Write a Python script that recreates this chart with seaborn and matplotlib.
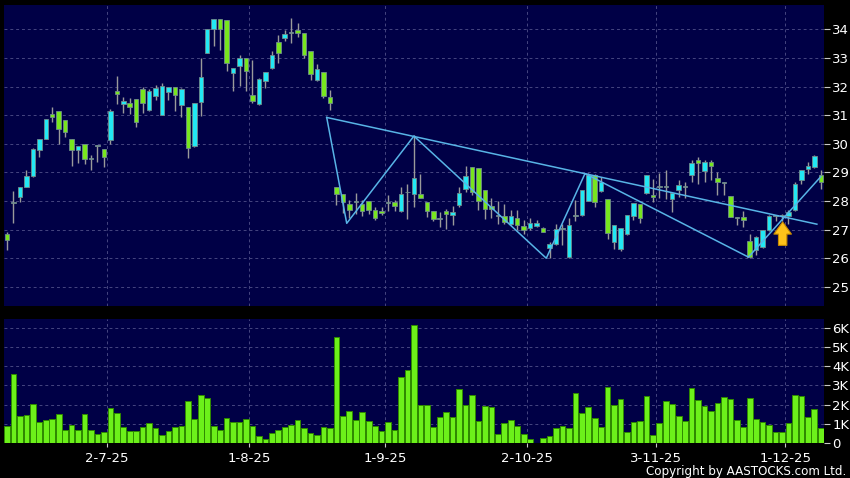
import numpy as np
import pandas as pd
import seaborn as sns
import matplotlib.pyplot as plt

# daily candles, oldest first
opens = [26.84, 27.93, 28.14, 28.49, 28.88, 29.79, 30.17, 31.05, 31.14, 30.84,
         30.17, 29.79, 30.00, 29.48, 29.92, 29.83, 30.14, 31.84, 31.40, 31.43,
         31.56, 31.91, 31.19, 31.67, 31.01, 31.80, 32.00, 31.34, 31.30, 29.91,
         31.45, 33.19, 34.00, 34.35, 34.33, 32.49, 32.73, 32.99, 31.70, 31.40,
         32.21, 32.64, 33.57, 33.69, 33.86, 33.98, 33.88, 33.26, 32.23, 32.50,
         31.62, 28.49, 28.24, 27.90, 27.97, 27.91, 27.99, 27.67, 27.65, 27.93,
         27.97, 27.66, 28.30, 28.26, 28.23, 27.97, 27.65, 27.37, 27.65, 27.52,
         27.85, 28.43, 29.19, 29.16, 28.37, 27.82, 27.48, 27.48, 27.21, 27.42,
         27.13, 27.07, 27.14, 27.07, 26.35, 26.50, 27.02, 26.04, 27.49, 27.51,
         28.01, 28.91, 28.36, 28.06, 26.58, 26.31, 26.84, 27.49, 27.88, 28.29,
         28.20, 28.49, 28.49, 28.06, 28.38, 28.49, 28.90, 29.42, 29.05, 29.36,
         28.81, 28.63, 28.17, 27.42, 27.44, 26.60, 26.30, 26.40, 26.98, 27.48,
         27.48, 27.48, 27.67, 28.74, 29.13, 29.19, 28.90]
highs = [26.92, 28.34, 28.50, 29.10, 29.85, 30.17, 30.87, 31.30, 31.14, 30.84,
         30.17, 29.93, 30.00, 29.60, 29.95, 29.83, 31.20, 32.38, 31.65, 31.60,
         31.56, 32.00, 31.90, 32.06, 32.14, 32.00, 32.00, 31.95, 31.30, 31.44,
         32.99, 34.00, 34.35, 34.35, 34.33, 32.64, 33.10, 32.99, 32.93, 32.30,
         32.52, 33.26, 33.80, 33.98, 34.38, 34.23, 33.88, 33.26, 32.79, 32.50,
         31.88, 28.50, 28.24, 28.02, 28.28, 28.05, 27.99, 27.80, 27.80, 28.20,
         28.05, 28.50, 28.60, 30.29, 28.95, 27.97, 27.65, 27.60, 27.73, 27.81,
         28.49, 29.21, 29.19, 29.16, 28.37, 28.10, 28.00, 27.90, 27.70, 27.67,
         27.33, 27.42, 27.32, 27.10, 26.55, 27.20, 27.20, 27.40, 28.05, 28.40,
         28.97, 28.95, 28.85, 28.06, 27.15, 27.05, 27.50, 27.92, 27.88, 28.90,
         28.76, 28.97, 29.08, 28.27, 28.73, 28.65, 29.44, 29.53, 29.44, 29.44,
         29.01, 28.65, 28.17, 27.45, 27.65, 26.86, 26.76, 27.00, 27.50, 27.50,
         27.55, 27.70, 28.65, 29.07, 29.36, 29.60, 29.07]
lows = [26.28, 27.24, 27.97, 28.49, 28.85, 29.53, 30.17, 30.76, 30.00, 30.23,
        29.21, 29.33, 29.30, 29.09, 29.36, 29.19, 30.00, 31.40, 31.07, 31.05,
        30.60, 31.07, 31.15, 31.53, 31.00, 31.53, 31.16, 30.95, 29.50, 29.90,
        30.98, 33.19, 33.42, 33.28, 32.56, 31.86, 32.02, 31.86, 31.42, 31.35,
        31.94, 32.60, 32.81, 33.60, 33.51, 33.72, 32.99, 32.23, 32.20, 31.60,
        31.19, 27.87, 27.58, 27.41, 27.56, 27.47, 27.55, 27.35, 27.50, 27.64,
        27.64, 27.60, 27.38, 27.79, 28.10, 27.44, 27.30, 27.09, 27.03, 27.17,
        27.80, 28.31, 28.20, 27.67, 27.38, 27.41, 27.20, 27.20, 27.15, 26.98,
        26.83, 27.00, 27.10, 26.90, 26.02, 26.45, 26.45, 26.00, 27.30, 27.48,
        28.00, 27.80, 28.30, 26.66, 26.31, 26.27, 26.80, 27.34, 27.22, 28.25,
        27.98, 28.09, 28.06, 27.63, 28.15, 28.09, 28.66, 28.60, 28.66, 28.74,
        28.20, 28.20, 27.44, 27.15, 27.10, 26.02, 26.10, 26.35, 26.95, 27.30,
        27.30, 27.20, 27.65, 28.60, 28.95, 29.15, 28.43]
closes = [26.63, 27.93, 28.49, 28.88, 29.83, 30.17, 30.87, 30.95, 30.52, 30.41,
          29.79, 29.93, 29.48, 29.48, 29.92, 29.53, 31.14, 31.74, 31.51, 31.30,
          30.76, 31.42, 31.86, 31.94, 32.03, 32.00, 31.69, 31.93, 29.85, 31.44,
          32.35, 34.00, 34.35, 34.00, 32.84, 32.64, 32.99, 32.56, 31.51, 32.26,
          32.52, 33.10, 33.19, 33.84, 33.86, 33.88, 33.10, 32.44, 32.62, 31.67,
          31.42, 28.24, 27.95, 27.70, 27.97, 27.64, 27.67, 27.40, 27.57, 27.93,
          27.81, 28.24, 28.30, 28.81, 28.12, 27.64, 27.36, 27.37, 27.53, 27.63,
          28.28, 28.86, 28.31, 27.99, 27.73, 27.72, 27.48, 27.27, 27.48, 27.15,
          27.00, 27.23, 27.23, 26.92, 26.50, 27.02, 27.02, 27.17, 27.49, 28.38,
          28.91, 27.98, 28.67, 26.87, 27.15, 27.05, 27.50, 27.92, 27.40, 28.90,
          28.13, 28.49, 28.49, 28.27, 28.55, 28.49, 29.33, 29.33, 29.36, 29.21,
          28.65, 28.63, 27.44, 27.42, 27.35, 26.05, 26.74, 27.00, 27.48, 27.48,
          27.48, 27.60, 28.60, 29.07, 29.24, 29.59, 28.66]
# volume in thousands
volume = [0.90, 3.62, 1.43, 1.48, 2.05, 1.13, 1.20, 1.27, 1.51, 0.70,
          0.96, 0.70, 1.50, 0.68, 0.50, 0.61, 1.83, 1.55, 0.85, 0.66,
          0.64, 0.87, 1.04, 0.80, 0.45, 0.63, 0.85, 0.89, 2.17, 1.27,
          2.52, 2.37, 0.89, 0.68, 1.30, 1.11, 1.13, 1.25, 0.92, 0.38,
          0.23, 0.52, 0.70, 0.82, 0.97, 1.23, 0.80, 0.56, 0.42, 0.83,
          0.78, 5.50, 1.43, 1.70, 1.22, 1.60, 1.18, 0.92, 0.64, 1.10,
          0.71, 3.46, 3.81, 6.16, 1.97, 1.98, 0.83, 1.39, 1.65, 1.34,
          2.82, 2.00, 2.50, 1.18, 1.95, 1.86, 0.47, 1.06, 1.23, 0.90,
          0.49, 0.24, 0.04, 0.26, 0.38, 0.78, 0.89, 0.78, 2.63, 1.57,
          1.86, 1.29, 0.87, 2.94, 1.97, 2.31, 0.57, 1.10, 1.15, 2.45,
          0.43, 1.04, 2.17, 2.03, 1.43, 1.17, 2.85, 2.24, 1.93, 1.70,
          2.07, 2.42, 2.30, 1.22, 0.82, 2.37, 1.27, 1.11, 0.97, 0.59,
          0.61, 1.03, 2.52, 2.45, 1.36, 1.76, 0.80]

date_labels = ['2-7-25', '1-8-25', '1-9-25', '2-10-25', '3-11-25', '1-12-25']
date_bars = [15, 37, 58, 80, 100, 120]

# drawn trend lines: (bar index, price)
trend_x = [49.5, 125.4]
trend_y = [30.92, 27.19]
zigzag_x = [49.5, 52.6, 63.0, 83.5, 89.5, 114.8, 126.0]
zigzag_y = [30.92, 27.22, 30.27, 26.00, 28.96, 26.04, 28.85]
arrow_bar, arrow_lo, arrow_hi = 120.1, 26.45, 27.27

df = pd.DataFrame({'open': opens, 'high': highs, 'low': lows,
                   'close': closes, 'volume': volume})
df['bar'] = np.arange(len(df))

BG = '#000000'
PANEL = '#000046'
GRID = '#464680'
CYAN = '#22e8f4'
GREEN = '#78e61e'
DOJI = '#9a9a9a'
LINE = '#58b4e6'

fig = plt.figure(figsize=(8.5, 4.78), dpi=100)
fig.patch.set_facecolor(BG)
ax1 = fig.add_axes([0.0047, 0.3598, 0.9647, 0.6297])
ax2 = fig.add_axes([0.0047, 0.0726, 0.9647, 0.2600])

for ax in (ax1, ax2):
    ax.set_facecolor(PANEL)
    for s in ax.spines.values():
        s.set_visible(False)
    ax.yaxis.tick_right()
    ax.tick_params(axis='y', colors='#c8c8c8', labelcolor='white',
                   length=4, width=0.8, pad=2, labelsize=9.5)
    ax.set_axisbelow(True)

# candles
up = df['close'] > df['open']
down = df['close'] < df['open']
colors = np.where(up, CYAN, np.where(down, GREEN, DOJI))
body_lo = df[['open', 'close']].min(axis=1)
body_h = (df['close'] - df['open']).abs().clip(lower=0.03)
ax1.vlines(df['bar'], df['low'], df['high'], color=DOJI, lw=1, zorder=2)
ax1.bar(df['bar'], body_h, bottom=body_lo, width=0.7, color=colors,
        edgecolor='#6f8c8c', linewidth=0.6, zorder=3)

sns.lineplot(x=trend_x, y=trend_y, ax=ax1, color=LINE, lw=1.1,
             estimator=None, sort=False, zorder=4)
sns.lineplot(x=zigzag_x, y=zigzag_y, ax=ax1, color=LINE, lw=1.1,
             estimator=None, sort=False, zorder=4)
ax1.annotate('', xy=(arrow_bar, arrow_hi), xytext=(arrow_bar, arrow_lo),
             arrowprops=dict(arrowstyle='simple,head_width=1.15,head_length=0.8,tail_width=0.55',
                             fc='#ffc21a', ec='#c88a00', lw=0.8, mutation_scale=11,
                             shrinkA=0, shrinkB=0),
             zorder=5)

ax1.set_xlim(-0.47, 126.5)
ax1.set_ylim(24.33, 34.85)
ax1.set_yticks(range(25, 35))
ax1.set_xticks([b + 0.5 for b in date_bars])
ax1.tick_params(axis='x', length=0, labelbottom=False)
ax1.grid(True, color=GRID, ls=(0, (3, 3)), lw=0.7)

# volume
sns.barplot(x=df['bar'], y=df['volume'], native_scale=True, width=0.88,
            color='#6cf01a', saturation=1, edgecolor='#2f8a00',
            linewidth=0.7, errorbar=None, ax=ax2, zorder=3)
ax2.set_xlim(-0.47, 126.5)
ax2.set_ylim(0, 6.45)
ax2.set_yticks(range(0, 7))
ax2.set_yticklabels(['0'] + [f'{k}K' for k in range(1, 7)])
ax2.set_xticks([b + 0.5 for b in date_bars])
ax2.set_xticklabels(date_labels)
ax2.tick_params(axis='x', colors='#c8c8c8', labelcolor='white',
                length=3, width=0.8, pad=3, labelsize=9.5)
ax2.set_xlabel('')
ax2.set_ylabel('')
ax2.grid(True, color=GRID, ls=(0, (3, 3)), lw=0.7)

fig.text(0.995, 0.0, 'Copyright by AASTOCKS.com Ltd.', color='white',
         fontsize=8.6, ha='right', va='bottom')

fig.savefig('out.png', dpi=100, facecolor=BG)
